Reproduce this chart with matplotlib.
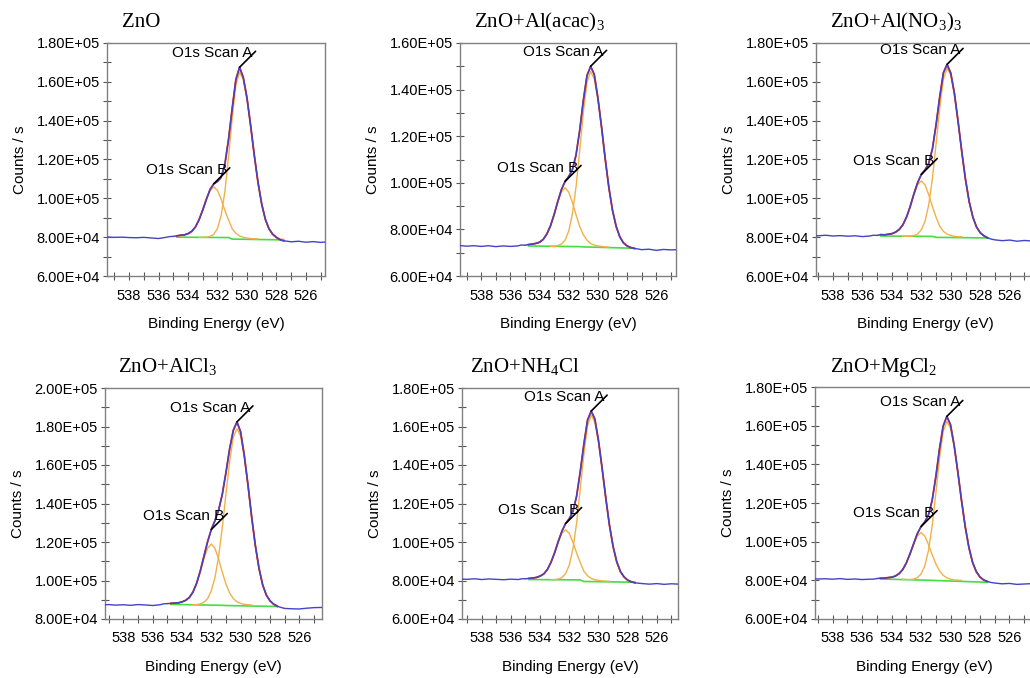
import matplotlib.pyplot as plt
import numpy as np
from matplotlib.ticker import FuncFormatter, MultipleLocator

plt.rcParams['font.family'] = 'Liberation Sans'
plt.rcParams['mathtext.fontset'] = 'custom'
plt.rcParams['mathtext.rm'] = 'Liberation Serif'

# binding energy (eV) of the measured scan, the fitted peaks A/B and the background
E_SCAN = [539.5, 539.0, 538.5, 538.0, 537.5, 537.0, 536.5, 536.0, 535.5,
          535.25, 535.0, 534.75, 534.5, 534.25, 534.0, 533.75, 533.5, 533.25, 533.0,
          532.75, 532.5, 532.25, 532.0, 531.75, 531.5, 531.25, 531.0, 530.75, 530.5,
          530.25, 530.0, 529.75, 529.5, 529.25, 529.0, 528.75, 528.5, 528.25, 528.0,
          527.75, 527.5, 527.25,
          527.0, 526.5, 526.0, 525.5, 525.0, 524.5, 524.0]
E_PEAK_A = [533.25, 533.0, 532.75, 532.5, 532.25, 532.0, 531.75, 531.5, 531.25, 531.0,
            530.75, 530.5, 530.25, 530.0, 529.75, 529.5, 529.25, 529.0, 528.75, 528.5,
            528.25, 528.0, 527.75, 527.5]
E_PEAK_B = [535.0, 534.75, 534.5, 534.25, 534.0, 533.75, 533.5, 533.25, 533.0, 532.75,
            532.5, 532.25, 532.0, 531.75, 531.5, 531.25, 531.0, 530.75, 530.5, 530.25,
            530.0, 529.75, 529.5, 529.25]
E_BG = [534.75, 531.25, 531.0, 527.5]

TITLES = ['ZnO', 'ZnO+Al(acac)$_3$', 'ZnO+Al(NO$_3$)$_3$',
          'ZnO+AlCl$_3$', 'ZnO+NH$_4$Cl', 'ZnO+MgCl$_2$']

# all counts in 1e3 counts / s
zno_scan = [80.1, 79.9, 80.0, 79.8, 79.7, 79.9, 79.6, 79.3, 79.9,
            80.3, 80.4, 80.7, 81.0, 81.2, 81.8, 83.0, 85.2, 89.0, 94.0,
            99.6, 104.6, 107.5, 108.7, 110.8, 117.4, 130.3, 146.4, 161.2, 167.5,
            162.3, 151.9, 137.6, 122.2, 108.3, 97.2, 89.2, 84.3, 81.5, 79.9,
            78.7, 78.1, 77.9,
            77.6, 77.9, 77.4, 77.7, 77.3, 77.6, 77.5]
zno_a = [79.9, 79.9, 80.0, 80.4, 81.5, 84.5, 91.2, 103.3, 121.2, 141.1,
         158.3, 164.9, 161.3, 151.2, 137.1, 121.8, 108.0, 96.9, 89.0, 84.1,
         81.3, 79.8, 79.1, 78.8]
zno_b = [80.4, 80.5, 80.7, 81.0, 81.7, 82.9, 85.2, 89.0, 94.0, 99.5,
         104.1, 105.9, 104.1, 99.5, 93.9, 88.9, 84.3, 82.0, 80.6, 79.9,
         79.6, 79.3, 79.2, 79.1]
zno_bg = [80.0, 79.8, 79.0, 78.6]

acac_scan = [73.1, 72.8, 73.0, 72.7, 73.0, 72.6, 72.9, 72.7, 72.9,
             73.3, 73.2, 73.5, 73.7, 74.0, 74.5, 75.7, 78.0, 81.5, 86.4,
             92.0, 97.1, 100.6, 102.7, 105.6, 111.9, 122.4, 135.3, 146.0, 150.0,
             146.5, 136.4, 123.9, 110.3, 98.0, 88.2, 81.3, 76.8, 74.2, 72.9,
             72.2, 71.8, 71.6,
             71.3, 71.5, 71.0, 71.4, 71.2, 71.3, 71.2]
acac_a = [72.7, 72.7, 73.0, 73.7, 75.4, 79.3, 86.6, 98.2, 113.7, 130.1,
          143.1, 147.8, 144.6, 135.7, 123.4, 109.9, 97.7, 87.9, 81.1, 76.8,
          74.2, 72.9, 72.3, 72.1]
acac_b = [73.3, 73.4, 73.6, 73.9, 74.4, 75.7, 78.0, 81.5, 86.4, 91.7,
          96.1, 97.9, 96.0, 91.6, 86.3, 81.3, 77.7, 75.4, 73.9, 73.3,
          72.9, 72.7, 72.5, 72.4]
acac_bg = [72.9, 72.6, 72.5, 71.9]

nitrate_scan = [80.9, 80.7, 81.0, 80.6, 80.8, 80.5, 80.7, 80.3, 80.6,
                81.0, 80.9, 81.3, 81.2, 81.5, 81.8, 82.6, 84.0, 86.4, 90.4,
                95.9, 102.4, 108.1, 112.3, 114.6, 118.0, 125.3, 137.8, 152.3, 164.7,
                169.0, 164.5, 153.9, 139.4, 123.9, 109.7, 98.3, 90.3, 85.2, 82.3,
                80.7, 79.6, 79.0,
                78.6, 78.2, 78.5, 77.9, 78.3, 78.0, 78.2]
nitrate_a = [80.5, 80.5, 80.5, 80.9, 81.6, 83.8, 88.2, 96.6, 110.0, 127.9,
             146.4, 161.4, 167.1, 163.4, 153.1, 138.9, 123.4, 109.3, 98.1, 90.2,
             85.2, 82.2, 80.7, 80.0]
nitrate_b = [81.0, 81.1, 81.1, 81.3, 81.7, 82.4, 83.7, 86.3, 90.4, 95.9,
             102.0, 107.0, 109.0, 106.9, 101.9, 95.8, 90.3, 85.6, 83.0, 81.6,
             80.9, 80.4, 80.2, 80.2]
nitrate_bg = [80.6, 80.4, 79.9, 79.6]

alcl_scan = [87.3, 87.5, 87.2, 87.4, 87.1, 87.5, 87.3, 87.0, 87.4,
             87.9, 88.0, 88.1, 88.3, 88.4, 88.9, 89.7, 91.2, 94.0, 98.6,
             105.0, 112.7, 120.2, 126.5, 131.1, 136.6, 144.8, 156.1, 168.4, 178.0,
             182.4, 177.2, 165.0, 149.8, 133.2, 118.4, 106.5, 97.8, 92.5, 89.5,
             87.7, 86.6, 86.0,
             85.5, 85.3, 85.2, 85.6, 85.9, 86.0, 86.2]
alcl_a = [87.5, 87.5, 87.8, 88.7, 90.6, 94.7, 101.5, 112.6, 127.6, 145.0,
          161.9, 174.4, 178.9, 175.0, 164.2, 149.2, 132.7, 117.9, 106.1, 97.7,
          92.4, 89.4, 87.8, 87.0]
alcl_b = [88.0, 88.1, 88.2, 88.3, 88.7, 89.5, 91.0, 93.9, 98.4, 104.5,
          111.3, 116.8, 119.0, 116.7, 111.1, 104.3, 98.1, 93.5, 90.6, 88.9,
          88.1, 87.6, 87.4, 87.3]
alcl_bg = [87.6, 87.1, 87.0, 86.5]

nh4cl_scan = [80.8, 80.6, 80.9, 80.5, 80.8, 80.6, 80.4, 80.7, 80.5,
              80.9, 80.9, 81.1, 81.3, 81.6, 82.3, 83.4, 85.7, 89.5, 94.5,
              100.4, 105.7, 109.6, 112.1, 115.9, 123.7, 136.4, 150.8, 163.3, 168.0,
              164.0, 152.8, 138.4, 123.0, 108.9, 97.8, 89.8, 84.7, 81.9, 80.2,
              79.3, 78.8, 78.6,
              78.4, 78.1, 78.4, 78.0, 78.3, 78.1, 78.2]
nh4cl_a = [80.4, 80.4, 80.8, 81.5, 83.6, 88.0, 96.4, 109.7, 127.3, 145.5,
           160.4, 165.9, 162.3, 152.1, 137.9, 122.6, 108.6, 97.5, 89.6, 84.6,
           81.8, 80.2, 79.5, 79.3]
nh4cl_b = [80.9, 81.0, 81.2, 81.5, 82.2, 83.4, 85.7, 89.5, 94.5, 100.0,
           104.6, 106.4, 104.5, 99.9, 94.4, 89.4, 84.8, 82.5, 81.1, 80.4,
           80.1, 79.8, 79.7, 79.6]
nh4cl_bg = [80.5, 80.3, 79.5, 79.1]

mgcl_scan = [80.9, 80.7, 80.8, 80.6, 80.9, 80.5, 80.7, 80.4, 80.6,
             80.6, 80.9, 81.1, 81.1, 81.4, 81.6, 82.2, 83.4, 85.5, 89.0,
             93.7, 99.0, 104.2, 107.8, 110.2, 113.8, 121.2, 133.4, 147.9, 159.8,
             164.8, 160.5, 149.7, 135.9, 121.2, 107.7, 97.0, 89.2, 84.5, 81.7,
             80.2, 79.4, 78.9,
             78.6, 78.2, 78.4, 77.9, 78.1, 78.3, 78.2]
mgcl_a = [80.5, 80.4, 80.4, 80.6, 81.4, 83.3, 87.4, 95.3, 107.9, 124.8,
          142.8, 157.0, 162.2, 158.7, 149.0, 135.4, 120.7, 107.4, 96.7, 89.2,
          84.4, 81.7, 80.2, 79.4]
mgcl_b = [81.0, 81.1, 81.2, 81.3, 81.6, 82.2, 83.4, 85.5, 89.0, 93.6,
          98.8, 103.1, 104.7, 102.9, 98.6, 93.3, 88.6, 84.9, 82.6, 81.3,
          80.6, 80.2, 80.1, 79.9]
mgcl_bg = [80.7, 80.0, 79.9, 79.0]

SCANS = [zno_scan, acac_scan, nitrate_scan, alcl_scan, nh4cl_scan, mgcl_scan]
PEAKS_A = [zno_a, acac_a, nitrate_a, alcl_a, nh4cl_a, mgcl_a]
PEAKS_B = [zno_b, acac_b, nitrate_b, alcl_b, nh4cl_b, mgcl_b]
BACKGROUNDS = [zno_bg, acac_bg, nitrate_bg, alcl_bg, nh4cl_bg, mgcl_bg]

# axis ranges
XLIMS = [(539.5, 524.7), (539.45, 524.65), (539.15, 524.35),
         (539.25, 524.45), (539.35, 524.55), (539.2, 524.4)]
YLIMS = [(6e4, 1.8e5), (6e4, 1.6e5), (6e4, 1.8e5),
         (8e4, 2.0e5), (6e4, 1.8e5), (6e4, 1.8e5)]

# axes boxes in pixels: left, top, width, height ; title offset in points
BOXES = [(107, 43, 218, 233), (460, 43, 216, 233), (816, 43, 218, 233),
         (105, 388, 217, 231), (462, 388, 216, 231), (815, 387, 218, 232)]
TITLE_DX = [10.8, 10, 10, 9.4, 5.8, 10.8]

W, H = 1030, 678


def label_peak(ax, x, y, text):
    ax.annotate('', xy=(x, y), xytext=(11.5, 11.5), textcoords='offset points',
                arrowprops=dict(arrowstyle='-', color='black', lw=1.2,
                                shrinkA=0, shrinkB=0), zorder=6)
    ax.annotate(text, xy=(x, y), xytext=(9.5, 10), textcoords='offset points',
                ha='right', va='center', fontsize=11, zorder=6)


def draw_panel(ax, k):
    e = np.array(E_SCAN)
    scan = np.array(SCANS[k]) * 1e3
    pa = np.array(PEAKS_A[k]) * 1e3
    pb = np.array(PEAKS_B[k]) * 1e3
    fit = (e <= E_BG[0]) & (e >= E_BG[-1])

    ax.plot(E_BG, np.array(BACKGROUNDS[k]) * 1e3, color='#44dd44', lw=1.2, zorder=2)
    ax.plot(E_PEAK_A, pa, color='#f2b148', lw=1.0, zorder=3)
    ax.plot(E_PEAK_B, pb, color='#f2b148', lw=1.0, zorder=3)
    ax.plot(e[fit], scan[fit], color='#d02828', lw=1.3, zorder=4)
    ax.plot(e, scan, color='#4343c6', lw=1.0, zorder=5)

    i_a = np.argmax(scan)
    i_b = np.argmin(np.abs(e - E_PEAK_B[np.argmax(pb)]))
    label_peak(ax, e[i_a], scan[i_a], 'O1s Scan A')
    label_peak(ax, e[i_b], scan[i_b], 'O1s Scan B')

    ax.set_xlim(XLIMS[k])
    ax.set_ylim(YLIMS[k])
    ax.xaxis.set_major_locator(MultipleLocator(2))
    ax.xaxis.set_minor_locator(MultipleLocator(1))
    ax.yaxis.set_major_locator(MultipleLocator(20000))
    ax.yaxis.set_minor_locator(MultipleLocator(10000))
    ax.xaxis.set_major_formatter(FuncFormatter(lambda v, p: f'{v:.0f}'))
    ax.yaxis.set_major_formatter(FuncFormatter(lambda v, p: f'{v:.2E}'))
    ax.tick_params(which='both', direction='inout', length=6, width=0.8,
                   color='#555555', labelsize=10.5)
    ax.tick_params(axis='x', which='both', pad=6)
    ax.tick_params(axis='y', which='both', pad=2)
    for s in ax.spines.values():
        s.set_color('#808080')
        s.set_linewidth(1.0)

    ax.set_xlabel('Binding Energy (eV)', fontsize=11, labelpad=10.5)
    ax.set_ylabel('Counts / s', fontsize=11, labelpad=7)
    dy = 11.5 if k < 3 else 11
    ax.annotate(TITLES[k], xy=(0, 1), xycoords='axes fraction',
                xytext=(TITLE_DX[k], dy), textcoords='offset points',
                family='Liberation Serif', fontsize=15, va='baseline')


fig = plt.figure(figsize=(W / 100, H / 100), dpi=100)
for k, (l, t, w, h) in enumerate(BOXES):
    ax = fig.add_axes([l / W, 1 - (t + h) / H, w / W, h / H])
    draw_panel(ax, k)

fig.savefig('out.png', dpi=100)
plt.close(fig)
